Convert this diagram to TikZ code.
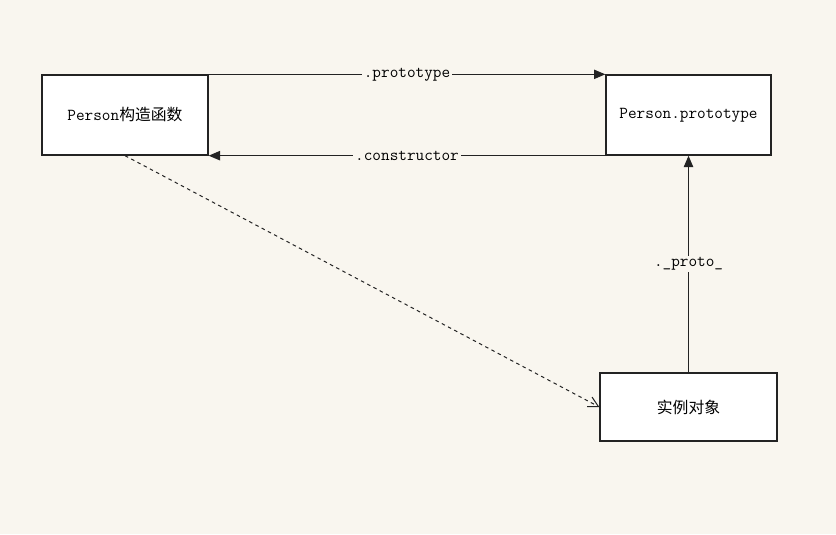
\documentclass[tikz,border=0pt]{standalone}
\usepackage{fontspec}
\newfontfamily\cjk{Noto Sans CJK SC}
\usetikzlibrary{positioning,arrows.meta}
\definecolor{paper}{RGB}{249,246,239}
\definecolor{ink}{RGB}{35,35,35}
\tikzset{
  linkarrow/.style={-{Triangle[length=3.4mm,width=2.8mm]}, draw=ink, line width=0.35mm},
  instarrow/.style={-{Straight Barb[length=3mm,width=3.2mm]}, draw=ink, line width=0.3mm, dashed},
  objbox/.style={draw=ink, fill=white, line width=0.4mm, minimum width=49.8mm, minimum height=24mm, align=center, inner sep=0pt},
  linklabel/.style={fill=paper, inner sep=1.5pt}
}

\begin{document}
\begin{tikzpicture}[x=0.3mm, y=-0.3mm, every node/.style={font=\fontsize{14.3}{16}\selectfont\ttfamily}]
      \fill[paper] (0,0) rectangle (836,534);
      \useasboundingbox (0,0) rectangle (836,534);
      \node[objbox] (ctor) at (125,115) {Person{\cjk\fontsize{13.5}{16}\selectfont 构造函数}};
      \node[objbox, minimum width=49.5mm] (proto) at (688.5,115) {Person.prototype};
      \node[objbox, minimum width=53.1mm, minimum height=20.4mm] (inst) at (688.5,407) {\cjk\fontsize{13.5}{16}\selectfont 实例对象};
      \draw[linkarrow] (ctor.north east) -- node[linklabel]{.prototype} (proto.north west);
      \draw[linkarrow] (proto.south west) -- node[linklabel]{.constructor} (ctor.south east);
      \draw[linkarrow] (inst.north) -- node[linklabel]{.\_proto\_} (proto.south);
      \draw[instarrow] (ctor.south) -- (inst.west);
    \end{tikzpicture}
\end{document}
